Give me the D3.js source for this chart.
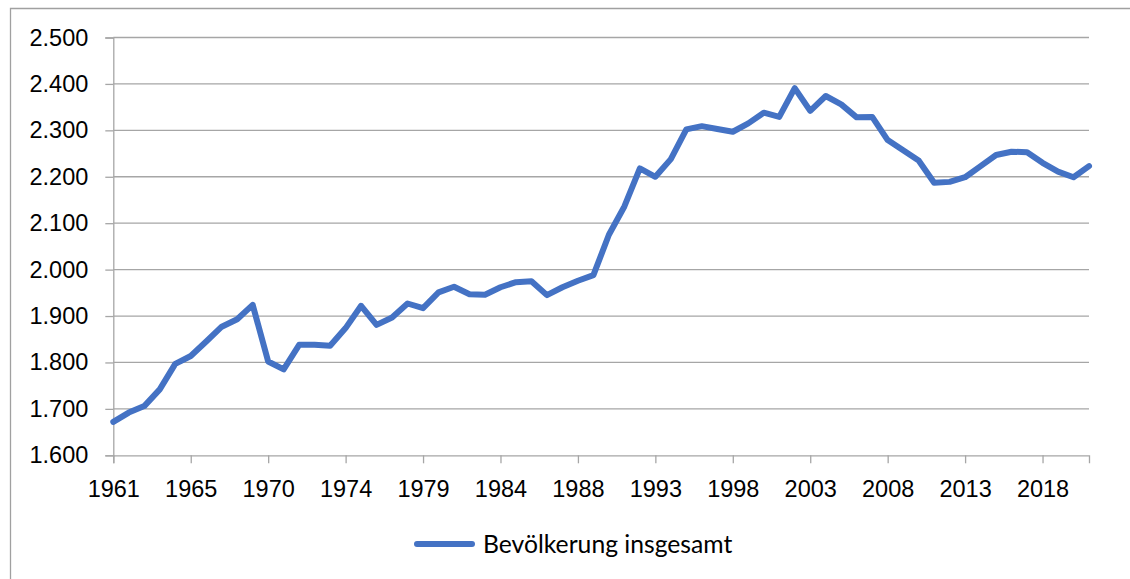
<!DOCTYPE html>
<html>
<head>
<meta charset="utf-8">
<script src="https://cdn.jsdelivr.net/npm/d3@7"></script>
<style>
  body { margin: 0; background: #fff; }
  svg { display: block; font-family: Lato, "Open Sans", sans-serif; }
</style>
</head>
<body>
<svg id="chart" width="1130" height="579"></svg>
<script>
// Bevölkerung insgesamt (Tausend), one value per category
const values = [
  1672, 1692, 1706, 1742, 1797, 1814, 1845, 1877, 1893, 1924,
  1802, 1785, 1838, 1838, 1836, 1874, 1922, 1881, 1897, 1927,
  1917, 1951, 1963, 1947, 1946, 1962, 1973, 1975, 1945, 1962,
  1976, 1988, 2075, 2136, 2218, 2200, 2238, 2302, 2309, 2303,
  2297, 2315, 2338, 2329, 2391, 2342, 2374, 2356, 2328, 2329,
  2279, 2257, 2235, 2187, 2189, 2199, 2223, 2247, 2254, 2253,
  2230, 2211, 2199, 2223
];
// the axis only labels every 5th category
const tickLabels = ["1961", "1965", "1970", "1974", "1979", "1984", "1988",
  "1993", "1998", "2003", "2008", "2013", "2018"];
const labelStep = 5;
const yTicks = [1600, 1700, 1800, 1900, 2000, 2100, 2200, 2300, 2400, 2500];
const seriesName = "Bevölkerung insgesamt";

const categories = d3.range(values.length);

const svg = d3.select("#chart");
const plotLeft = 113.3, plotRight = 1089, plotTop = 37.5, plotBottom = 455.3;
const grey = "#a6a6a6";

// chart border (only left and top visible in the picture)
svg.append("path")
  .attr("d", "M10.5,579V8.5H1130")
  .attr("fill", "none")
  .attr("stroke", "#a0a0a0")
  .attr("stroke-width", 1.3);

const x = d3.scaleLinear().domain([0, categories.length - 1]).range([plotLeft, plotRight]);
const y = d3.scaleLinear().domain([1600, 2500]).range([plotBottom, plotTop]);

// gridlines
svg.append("g")
  .selectAll("line")
  .data(yTicks.slice(1))
  .join("line")
  .attr("x1", plotLeft).attr("x2", plotRight)
  .attr("y1", d => y(d)).attr("y2", d => y(d))
  .attr("stroke", grey)
  .attr("stroke-width", 1.3);

// y axis, german number format 1.600
const yAxis = svg.append("g")
  .attr("transform", "translate(" + plotLeft + ",0)")
  .call(d3.axisLeft(y).tickValues(yTicks).tickSize(8).tickPadding(17)
    .tickFormat(d => (d / 1000).toFixed(3)));
yAxis.select(".domain").attr("stroke", grey).attr("stroke-width", 1.3);
yAxis.selectAll(".tick line").attr("stroke", grey).attr("stroke-width", 1.3);
yAxis.selectAll("text")
  .attr("font-size", 23.5)
  .attr("fill", "#000");

// x axis
const xAxis = svg.append("g")
  .attr("transform", "translate(0," + plotBottom + ")")
  .call(d3.axisBottom(x)
    .tickValues(categories.filter(i => i % labelStep === 0))
    .tickSize(8).tickPadding(17)
    .tickFormat(i => tickLabels[i / labelStep]));
xAxis.select(".domain").attr("stroke", grey).attr("stroke-width", 1.3);
xAxis.selectAll(".tick line").attr("stroke", grey).attr("stroke-width", 1.3);
xAxis.selectAll("text")
  .attr("font-size", 23.5)
  .attr("fill", "#000");

// the series
const line = d3.line()
  .x((d, i) => x(categories[i]))
  .y(d => y(d));

svg.append("path")
  .datum(values)
  .attr("fill", "none")
  .attr("stroke", "#4472c4")
  .attr("stroke-width", 6)
  .attr("stroke-linejoin", "round")
  .attr("stroke-linecap", "round")
  .attr("d", line);

// legend
const legend = svg.append("g").attr("transform", "translate(0,544)");
legend.append("line")
  .attr("x1", 417).attr("x2", 472)
  .attr("stroke", "#4472c4")
  .attr("stroke-width", 6)
  .attr("stroke-linecap", "round");
legend.append("text")
  .attr("x", 483)
  .attr("y", 8.5)
  .attr("font-size", 24.7)
  .attr("fill", "#000")
  .text(seriesName);
</script>
</body>
</html>
